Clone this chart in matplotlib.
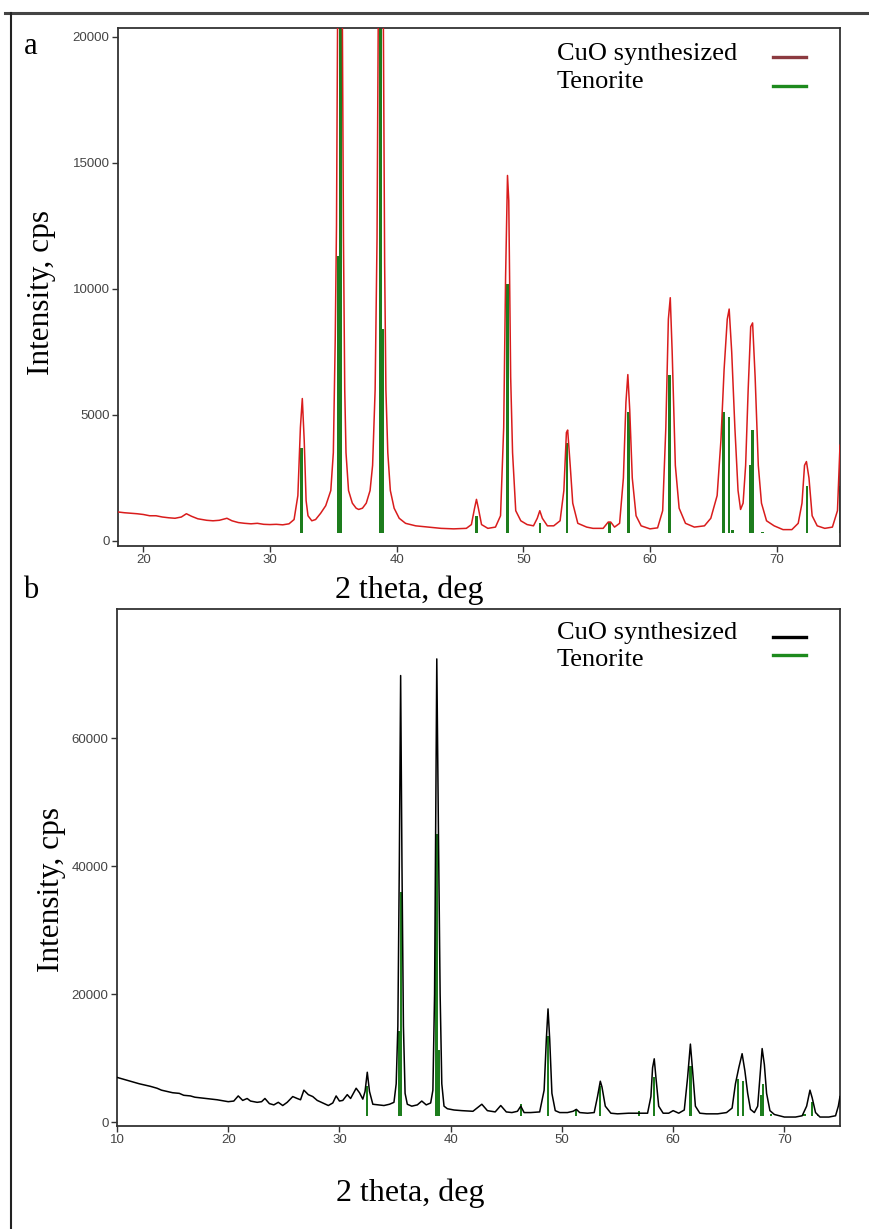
import numpy as np
import matplotlib
matplotlib.use("Agg")
import matplotlib.pyplot as plt
from matplotlib.lines import Line2D

SERIF = ["Liberation Serif", "DejaVu Serif"]
NARROW = ["Liberation Sans Narrow", "Liberation Sans", "DejaVu Sans"]

a_theta = [18.0, 18.5, 19.0, 19.5, 20.0, 20.5, 21.0, 21.5, 22.0, 22.5, 23.0, 23.4, 23.8, 24.3, 25.0,
           25.5, 26.0, 26.6, 27.0, 27.5, 28.0, 28.5, 29.0, 29.5, 30.0, 30.5, 31.0, 31.5, 31.9, 32.2,
           32.4, 32.55, 32.7, 32.85, 33.0, 33.3, 33.6, 34.0, 34.4, 34.8, 35.0, 35.15, 35.25, 35.35,
           35.5, 35.7, 35.8, 35.9, 36.0, 36.2, 36.5, 36.8, 37.0, 37.3, 37.6, 37.9, 38.1, 38.3, 38.45,
           38.55, 38.75, 38.95, 39.05, 39.15, 39.3, 39.5, 39.8, 40.2, 40.7, 41.5, 42.5, 43.5, 44.5,
           45.5, 45.9, 46.15, 46.3, 46.45, 46.7, 47.2, 47.8, 48.2, 48.45, 48.6, 48.75, 48.85, 49.0,
           49.15, 49.4, 49.8, 50.3, 50.8, 51.1, 51.3, 51.5, 51.9, 52.4, 52.9, 53.2, 53.4, 53.5, 53.7,
           53.9, 54.3, 55.0, 55.5, 56.3, 56.7, 56.9, 57.2, 57.6, 57.9, 58.1, 58.25, 58.4, 58.6, 58.9,
           59.3, 60.0, 60.6, 61.0, 61.25, 61.45, 61.6, 61.75, 62.0, 62.3, 62.8, 63.5, 64.3, 64.8,
           65.3, 65.6, 65.85, 66.1, 66.25, 66.45, 66.7, 66.95, 67.15, 67.35, 67.55, 67.75, 67.95,
           68.1, 68.3, 68.55, 68.8, 69.2, 69.8, 70.5, 71.2, 71.7, 72.0, 72.2, 72.35, 72.55, 72.8,
           73.2, 73.8, 74.4, 74.8, 75.0]
a_counts = [1150, 1120, 1100, 1080, 1050, 1000, 1000, 950, 920, 900, 950, 1080, 980, 880, 820,
            800, 820, 900, 800, 730, 700, 680, 700, 660, 650, 660, 640, 680, 850, 1800,
            4500, 5650, 4000, 1600, 1000, 800, 850, 1100, 1400, 2000, 3500, 8000, 12500, 22000,
            65000, 22000, 12000, 6000, 3500, 2000, 1500, 1300, 1250, 1300, 1500, 2000, 3000, 6000, 12000,
            20500, 65000, 20500, 11000, 6000, 3500, 2000, 1300, 900, 700, 600, 550, 500, 480,
            500, 650, 1300, 1650, 1300, 650, 500, 550, 1000, 4500, 10500, 14500, 13500, 6500,
            3500, 1200, 800, 650, 600, 900, 1200, 900, 600, 600, 800, 2000, 4300, 4400, 3000,
            1500, 700, 550, 500, 500, 750, 750, 550, 700, 2500, 5500, 6600, 5200, 2500, 1000,
            600, 480, 520, 1200, 4500, 8800, 9650, 7500, 3000, 1300, 700, 550, 600, 900,
            1800, 4000, 6800, 8800, 9200, 7500, 4500, 2000, 1250, 1500, 3000, 6000, 8500,
            8650, 6500, 3000, 1500, 800, 600, 450, 450, 700, 1500, 3000, 3150, 2500, 1000,
            600, 500, 550, 1200, 3800]

# panel a: tenorite reference sticks
a_ref_theta = [32.5, 35.42, 35.56, 38.72, 38.9, 46.3, 48.75, 51.3, 53.45, 56.8, 58.3, 61.55,
               65.8, 66.25, 66.5, 67.9, 68.1, 68.9, 71.7, 72.4, 72.9, 73.3, 75.0]
a_ref_counts = [3700, 11300, 40000, 40000, 8400, 1000, 10200, 700, 3900, 750, 5100, 6600,
                5100, 4900, 450, 3000, 4400, 350, 300, 2200, 300, 300, 2200]

# panel b: measured pattern
b_theta = [10.0, 11.0, 12.0, 13.0, 13.6, 14.0, 15.0, 15.6, 16.0, 16.6, 17.0, 18.0, 19.0, 20.0,
           20.5, 20.9, 21.3, 21.7, 22.0, 22.6, 23.0, 23.3, 23.7, 24.1, 24.5, 24.9, 25.3, 25.8,
           26.2, 26.5, 26.8, 27.2, 27.6, 28.0, 28.5, 29.0, 29.4, 29.7, 30.0, 30.3, 30.7, 31.0,
           31.5, 31.8, 32.1, 32.3, 32.5, 32.7, 33.0, 33.5, 34.0, 34.5, 34.9, 35.1, 35.25, 35.38,
           35.5, 35.62, 35.75, 35.9, 36.1, 36.5, 37.0, 37.4, 37.8, 38.2, 38.4, 38.55, 38.75,
           38.9, 39.05, 39.2, 39.4, 39.7, 40.3, 41.0, 42.0, 42.8, 43.3, 44.0, 44.5, 45.0, 45.5,
           46.0, 46.3, 46.6, 47.2, 48.0, 48.4, 48.6, 48.75, 48.9, 49.1, 49.4, 49.8, 50.5, 51.0,
           51.3, 51.6, 52.3, 52.9, 53.2, 53.45, 53.6, 53.9, 54.4, 55.0, 56.0, 57.0, 57.7, 58.0,
           58.15, 58.3, 58.45, 58.7, 59.1, 59.6, 60.0, 60.5, 61.0, 61.3, 61.55, 61.75, 62.0,
           62.4, 63.0, 64.0, 64.8, 65.3, 65.6, 65.9, 66.2, 66.45, 66.7, 66.95, 67.3, 67.6, 67.8,
           68.0, 68.2, 68.4, 68.7, 69.1, 70.0, 71.0, 71.6, 72.0, 72.3, 72.5, 72.8, 73.2, 74.0,
           74.6, 74.85, 75.0]
b_counts = [7000, 6500, 6000, 5600, 5300, 5000, 4600, 4500, 4200, 4100, 3900, 3700, 3500, 3200,
            3300, 4100, 3400, 3700, 3300, 3100, 3200, 3700, 2900, 2700, 3100, 2600, 3100, 4000,
            3700, 3500, 5000, 4300, 4000, 3400, 3000, 2600, 3000, 4100, 3300, 3400, 4300, 3700,
            5300, 4600, 3600, 4800, 7800, 4800, 2800, 2700, 2600, 2800, 3100, 6000, 15000, 40000,
            69800, 40000, 15000, 4500, 2800, 2500, 2700, 3300, 2700, 3000, 5000, 20000, 72400,
            45000, 20000, 6000, 2500, 2100, 1900, 1800, 1700, 2800, 1800, 1600, 2600, 1600, 1500,
            1700, 2500, 1500, 1500, 1600, 5000, 13000, 17700, 13000, 4500, 1800, 1500, 1500, 1700,
            2000, 1500, 1400, 1500, 4000, 6400, 5500, 2500, 1400, 1300, 1400, 1400, 1400, 4000,
            8500, 9900, 7000, 2500, 1400, 1400, 1800, 1400, 1900, 7000, 12200, 8000, 2500,
            1400, 1300, 1300, 1500, 2200, 6000, 8500, 10700, 8000, 4500, 2000, 1500, 2500, 7000,
            11500, 9000, 4500, 1800, 1200, 800, 800, 1000, 2500, 5000, 3800, 1500, 800, 800,
            1000, 2500, 4000]

# panel b: tenorite reference sticks
b_ref_theta = [32.5, 35.38, 35.52, 38.72, 38.92, 46.3, 48.75, 51.3, 53.45, 56.9, 58.3, 61.55,
               65.8, 66.25, 67.9, 68.1, 68.8, 71.8, 72.45, 73.0]
b_ref_counts = [5700, 14300, 36000, 45000, 11200, 2800, 13500, 2000, 5700, 1800, 7000, 8800,
                6800, 6500, 4200, 6000, 1300, 1200, 3100, 1100]

legend_labels = ["CuO synthesized", "Tenorite"]

W, H = 870, 1229
fig = plt.figure(figsize=(W / 100, H / 100), dpi=100)


def fx(px):
    return px / W


def fy(py):
    return 1 - py / H


def style_axes(ax, xlim, ylim, yticks, xticks):
    ax.set_xlim(*xlim)
    ax.set_ylim(*ylim)
    ax.set_yticks(yticks)
    ax.set_xticks(xticks)
    ax.tick_params(direction="out", length=4, width=1, color="#333333", pad=2,
                   labelsize=9.5, labelcolor="#444444")
    for lab in ax.get_xticklabels() + ax.get_yticklabels():
        lab.set_family(NARROW)
    for sp in ax.spines.values():
        sp.set_color("#333333")
        sp.set_linewidth(1.3)


def add_legend(curve_color, text_y, line_y):
    # text column on the left, line keys on the right, as in the figure
    colors = [curve_color, "#1d8a1d"]
    for lab, ty, ly, c in zip(legend_labels, text_y, line_y, colors):
        fig.text(fx(557), fy(ty), lab, ha="left", va="center", family=SERIF, size=19)
        fig.add_artist(Line2D([fx(773), fx(806)], [fy(ly)] * 2, color=c, lw=2.4,
                              transform=fig.transFigure))


# panel a
ax1 = fig.add_axes([fx(118), fy(546), fx(722), 518 / H])
ax1.bar(a_ref_theta, np.array(a_ref_counts) - 300, bottom=300, width=0.2,
        color="#1d7d1d", linewidth=0, zorder=2)
ax1.plot(a_theta, a_counts, color="#d91c1c", lw=1.1, zorder=3)
style_axes(ax1, (18, 75), (-200, 20350), [0, 5000, 10000, 15000, 20000], [20, 30, 40, 50, 60, 70])
add_legend("#8c3a40", (54, 82), (57, 86))

# panel b
ax2 = fig.add_axes([fx(117), fy(1126), fx(723), 517 / H])
ax2.bar(b_ref_theta, np.array(b_ref_counts) - 1000, bottom=1000, width=0.2,
        color="#1d7d1d", linewidth=0, zorder=2)
ax2.plot(b_theta, b_counts, color="black", lw=1.1, zorder=3)
style_axes(ax2, (10, 75), (-600, 80200), [0, 20000, 40000, 60000], [10, 20, 30, 40, 50, 60, 70])
add_legend("black", (633, 660), (637, 655))

# axis titles and panel letters
fig.text(fx(42), fy(292), "Intensity, cps", rotation=90, ha="center", va="center",
         family=SERIF, size=22.5)
fig.text(fx(52), fy(890), "Intensity, cps", rotation=90, ha="center", va="center",
         family=SERIF, size=22.5)
fig.text(fx(409), fy(590), "2 theta, deg", ha="center", va="center", family=SERIF, size=23)
fig.text(fx(410), fy(1193), "2 theta, deg", ha="center", va="center", family=SERIF, size=23)
fig.text(fx(31), fy(46), "a", ha="center", va="center", family=SERIF, size=22)
fig.text(fx(31), fy(590), "b", ha="center", va="center", family=SERIF, size=22)

# outer frame (top and left edges only)
fig.add_artist(Line2D([fx(5), 1.0], [fy(13)] * 2, color="#444444", lw=2.2,
                      transform=fig.transFigure))
fig.add_artist(Line2D([fx(11)] * 2, [0, fy(13)], color="#222222", lw=1.5,
                      transform=fig.transFigure))

fig.savefig("out.png", dpi=100)
